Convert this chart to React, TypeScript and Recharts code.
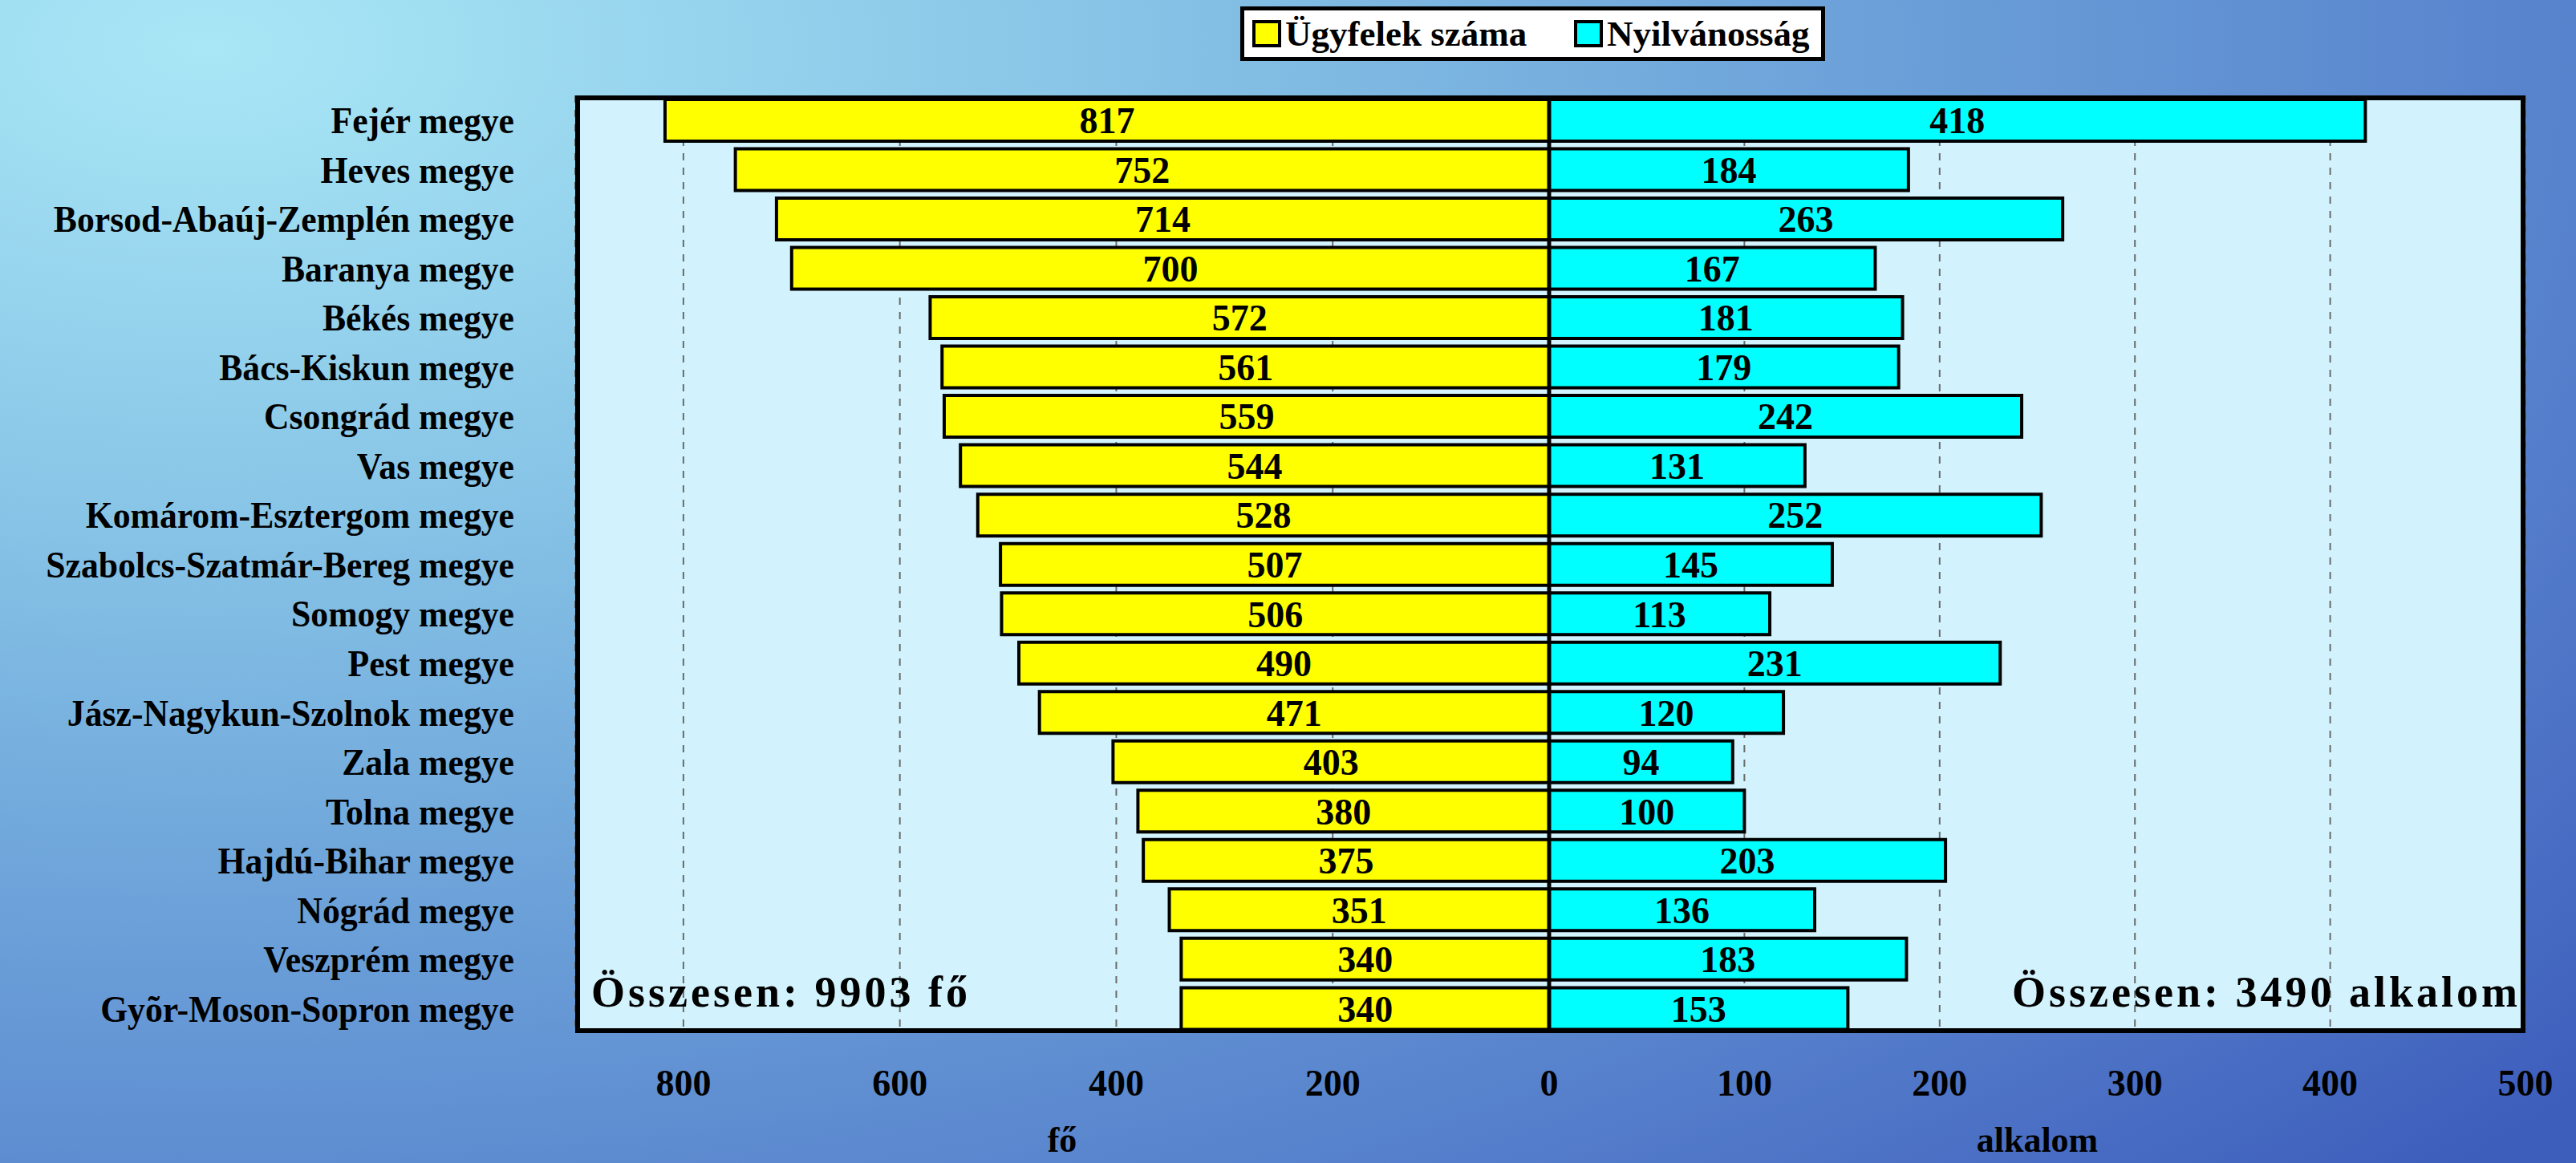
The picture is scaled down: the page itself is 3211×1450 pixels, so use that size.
import { BarChart, Bar, XAxis, YAxis, CartesianGrid, LabelList, ReferenceLine } from "recharts";

const COUNTIES = [
  "Fejér megye",
  "Heves megye",
  "Borsod-Abaúj-Zemplén megye",
  "Baranya megye",
  "Békés megye",
  "Bács-Kiskun megye",
  "Csongrád megye",
  "Vas megye",
  "Komárom-Esztergom megye",
  "Szabolcs-Szatmár-Bereg megye",
  "Somogy megye",
  "Pest megye",
  "Jász-Nagykun-Szolnok megye",
  "Zala megye",
  "Tolna megye",
  "Hajdú-Bihar megye",
  "Nógrád megye",
  "Veszprém megye",
  "Gyõr-Moson-Sopron megye",
];
const CLIENTS = [817, 752, 714, 700, 572, 561, 559, 544, 528, 507, 506, 490, 471, 403, 380, 375, 351, 340, 340];
const PUBLICITY = [418, 184, 263, 167, 181, 179, 242, 131, 252, 145, 113, 231, 120, 94, 100, 203, 136, 183, 153];
const LEFT_TICKS = [0, 200, 400, 600, 800];
const RIGHT_TICKS = [100, 200, 300, 400, 500];
const SERIES = ["Ügyfelek száma", "Nyilvánosság"];
const COLORS = ["#ffff00", "#00ffff"];
const TOTALS = ["Összesen: 9903 fő", "Összesen: 3490 alkalom"];
const UNITS = ["fő", "alkalom"];

const data = COUNTIES.map((name, i) => ({ name, clients: CLIENTS[i], publicity: PUBLICITY[i] }));

const FONT = "'Liberation Serif', 'Times New Roman', serif";
const tickStyle = { fill: "#000", fontSize: 46, fontWeight: "bold", fontFamily: FONT };
const gridProps = { horizontal: false, stroke: "#6b6b6b", strokeDasharray: "9 9", strokeWidth: 2 };

function CountyTick({ x, y, payload }: any) {
  return (
    <g transform={`translate(${x},${y})`}>
      <text transform="scale(0.93,1)" textAnchor="end" dy="0.35em" fontFamily={FONT} fontWeight="bold" fontSize={47} fill="#000">
        {payload.value}
      </text>
    </g>
  );
}

const unitLabel = (value: string) => ({
  value,
  position: "insideBottom" as const,
  offset: 14,
  fill: "#000",
  fontSize: 44,
  fontWeight: "bold",
  fontFamily: FONT,
});

export default function App() {
  return (
    <div
      style={{
        position: "absolute",
        left: 0,
        top: 0,
        width: 3211,
        height: 1450,
        overflow: "hidden",
        fontFamily: FONT,
        background:
          "radial-gradient(ellipse 120% 140% at 8% 4%, #a9e7f6 0%, #86c3e6 30%, #6a9fd8 55%, #5680cc 78%, #3e5ebc 100%)",
      }}
    >
      {/* plot background */}
      <div style={{ position: "absolute", left: 717, top: 119, width: 2431, height: 1169, background: "#d2f3fd" }} />

      {/* left half: clients */}
      <div style={{ position: "absolute", left: 0, top: 119 }}>
        <BarChart
          layout="vertical"
          width={1971}
          height={1331}
          data={data}
          margin={{ top: 0, right: 40, bottom: 0, left: 0 }}
          barCategoryGap="8%"
        >
          <CartesianGrid {...gridProps} />
          <XAxis
            type="number"
            domain={[0, 900]}
            reversed
            ticks={LEFT_TICKS}
            interval={0}
            tickSize={0}
            tickMargin={45}
            axisLine={false}
            height={162}
            tick={tickStyle}
            label={unitLabel(UNITS[0])}
          />
          <YAxis
            type="category"
            dataKey="name"
            width={717}
            tickSize={0}
            tickMargin={76}
            axisLine={false}
            interval={0}
            tick={<CountyTick />}
          />
          <Bar dataKey="clients" fill={COLORS[0]} stroke="#000" strokeWidth={4} isAnimationActive={false}>
            <LabelList dataKey="clients" position="center" fill="#000" fontSize={46} fontWeight="bold" fontFamily={FONT} />
          </Bar>
        </BarChart>
      </div>

      {/* right half: publicity */}
      <div style={{ position: "absolute", left: 1921, top: 119 }}>
        <BarChart
          layout="vertical"
          width={1290}
          height={1331}
          data={data}
          margin={{ top: 0, right: 63, bottom: 0, left: 10 }}
          barCategoryGap="8%"
        >
          <CartesianGrid {...gridProps} />
          <XAxis
            type="number"
            domain={[0, 500]}
            ticks={RIGHT_TICKS}
            interval={0}
            tickSize={0}
            tickMargin={45}
            axisLine={false}
            height={162}
            tick={tickStyle}
            label={unitLabel(UNITS[1])}
          />
          <YAxis type="category" dataKey="name" hide width={0} />
          <Bar dataKey="publicity" fill={COLORS[1]} stroke="#000" strokeWidth={4} isAnimationActive={false}>
            <LabelList dataKey="publicity" position="center" fill="#000" fontSize={46} fontWeight="bold" fontFamily={FONT} />
          </Bar>
          <ReferenceLine x={0} stroke="#000" strokeWidth={5} />
        </BarChart>
      </div>

      {/* frame border */}
      <div
        style={{
          position: "absolute",
          left: 717,
          top: 119,
          width: 2431,
          height: 1169,
          boxSizing: "border-box",
          border: "6px solid #000",
          pointerEvents: "none",
        }}
      />

      {/* totals */}
      <div style={{ position: "absolute", left: 737, top: 1210, fontSize: 54, lineHeight: "54px", fontWeight: "bold", letterSpacing: 4 }}>
        {TOTALS[0]}
      </div>
      <div style={{ position: "absolute", right: 69, top: 1210, fontSize: 54, lineHeight: "54px", fontWeight: "bold", letterSpacing: 4 }}>
        {TOTALS[1]}
      </div>

      {/* legend */}
      <div
        style={{
          position: "absolute",
          left: 1546,
          top: 8,
          width: 729,
          height: 68,
          boxSizing: "border-box",
          border: "5px solid #000",
          background: "#fff",
        }}
      >
        {SERIES.map((s, i) => (
          <div
            key={s}
            style={{ position: "absolute", left: i === 0 ? 10 : 411, top: 0, height: 58, display: "flex", alignItems: "center" }}
          >
            <div style={{ width: 36, height: 34, boxSizing: "border-box", border: "4px solid #000", background: COLORS[i] }} />
            <span style={{ marginLeft: 5, fontSize: 45, fontWeight: "bold", lineHeight: "45px" }}>{s}</span>
          </div>
        ))}
      </div>
    </div>
  );
}
